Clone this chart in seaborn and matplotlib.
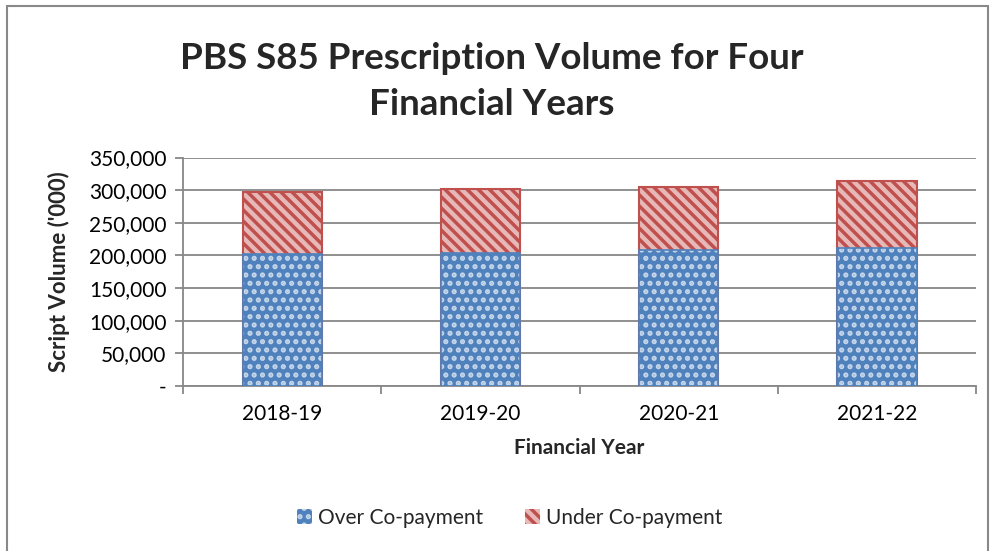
import pandas as pd
import seaborn as sns
import matplotlib.pyplot as plt
from matplotlib.patches import Rectangle, Patch
from matplotlib.ticker import FuncFormatter

# Values (script volume in '000)
years = ['2018-19', '2019-20', '2020-21', '2021-22']
over_copay = [202000, 203500, 208500, 211000]
under_copay = [94500, 99000, 96500, 102500]

df = pd.DataFrame({'Year': years, 'Over': over_copay, 'Under': under_copay})
df['Total'] = df['Over'] + df['Under']

sns.set_style('white')
plt.rcParams['font.family'] = ['Lato', 'DejaVu Sans']
plt.rcParams['hatch.linewidth'] = 2.5

fig = plt.figure(figsize=(9.9, 5.51), dpi=100)
ax = fig.add_axes([0.185, 0.2995, 0.801, 0.4145])

grid_col = '#878787'
blue = '#4F81BD'
red_face = '#E6B9B8'
red_edge = '#C0504D'

# Stacked bars: total drawn first, over co-payment on top
sns.barplot(data=df, x='Year', y='Total', ax=ax, color=red_face, width=0.4,
            saturation=1, edgecolor=red_edge, linewidth=1.5, hatch='\\\\\\', zorder=3)
sns.barplot(data=df, x='Year', y='Over', ax=ax, color=blue, width=0.4,
            saturation=1, edgecolor='#C5D6EA', linewidth=0, hatch='..', zorder=4)
# blue outline
sns.barplot(data=df, x='Year', y='Over', ax=ax, color='none', width=0.4,
            saturation=1, edgecolor=blue, linewidth=1.2, zorder=5)

ax.set_xlim(-0.5, 3.5)
ax.set_ylim(0, 350000)
ax.set_yticks(range(0, 350001, 50000))
ax.yaxis.set_major_formatter(FuncFormatter(lambda v, p: '-' if v == 0 else f'{int(v):,}'))
ax.grid(axis='y', color=grid_col, linewidth=1.3, zorder=0)
ax.set_axisbelow(True)

for s in ['top', 'right']:
    ax.spines[s].set_visible(False)
for s in ['left', 'bottom']:
    ax.spines[s].set_color(grid_col)
    ax.spines[s].set_linewidth(1.3)

ax.set_xticks([-0.5, 0.5, 1.5, 2.5, 3.5], minor=True)
ax.tick_params(axis='x', which='major', length=0, labelsize=15, pad=13, colors='black')
ax.tick_params(axis='x', which='minor', length=6, width=1.3, color=grid_col, direction='out')
ax.tick_params(axis='y', length=6, width=1.3, color=grid_col, direction='out',
               labelsize=15, labelcolor='black', pad=6)
ax.yaxis.set_ticks_position('left')
ax.xaxis.set_ticks_position('bottom')

ax.set_xlabel('Financial Year', fontsize=15, fontweight='bold', labelpad=10)
ax.set_ylabel("Script Volume ('000)", fontsize=16, fontweight='bold', labelpad=14)

fig.text(0.497, 0.852, 'PBS S85 Prescription Volume for Four\nFinancial Years',
         ha='center', va='center', fontsize=26.5, fontweight='bold', linespacing=1.5)

handles = [Patch(facecolor=blue, edgecolor='#C5D6EA', hatch='..', linewidth=0),
           Patch(facecolor=red_face, edgecolor=red_edge, hatch='\\\\\\', linewidth=0)]
fig.legend(handles, ['Over Co-payment', 'Under Co-payment'], loc='center',
           bbox_to_anchor=(0.515, 0.06), ncol=2, frameon=False, fontsize=15,
           handlelength=0.7, handleheight=0.7, handletextpad=0.3, columnspacing=2.0)

# outer chart border
fig.patches.append(Rectangle((0.007, -0.01), 0.991, 1.0, transform=fig.transFigure,
                             fill=False, edgecolor='#898989', linewidth=1.5))

fig.savefig('out.png', dpi=100)
